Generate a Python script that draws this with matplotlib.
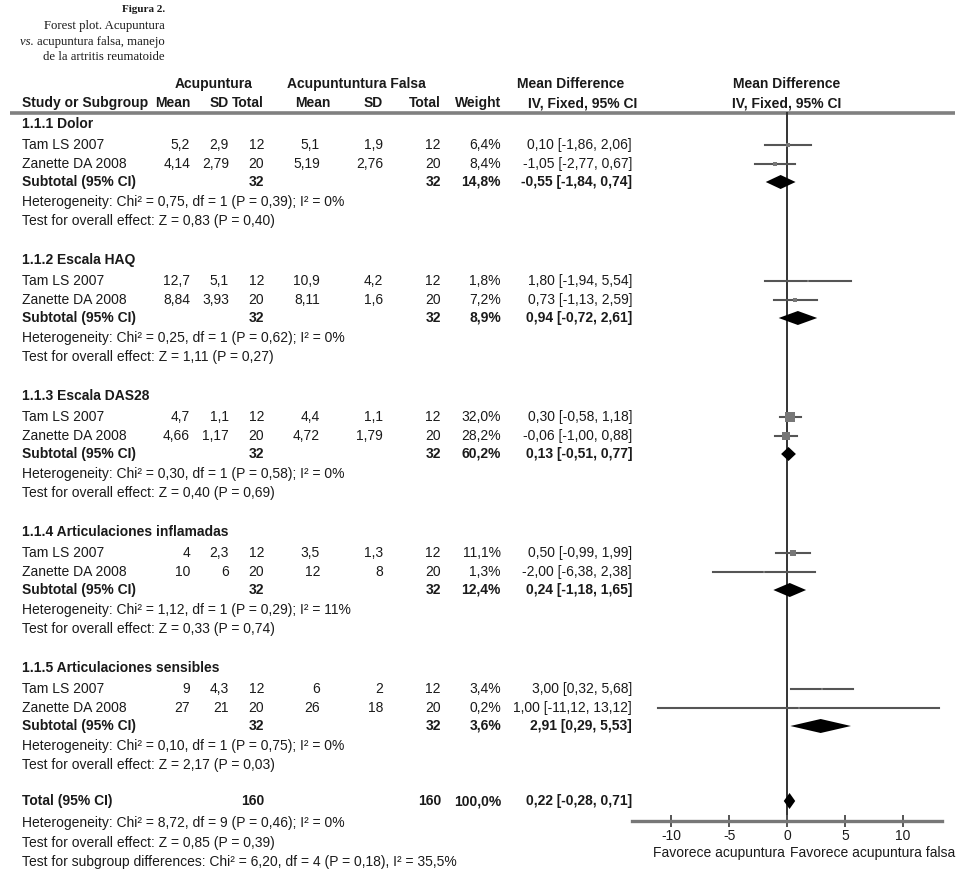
import numpy as np
import matplotlib
matplotlib.use("Agg")
import matplotlib.pyplot as plt

# datos
groups = ["1.1.1 Dolor", "1.1.2 Escala HAQ", "1.1.3 Escala DAS28",
          "1.1.4 Articulaciones inflamadas", "1.1.5 Articulaciones sensibles"]
studies = ["Tam LS 2007", "Zanette DA 2008"]
acu_mean = [[5.2, 4.14], [12.7, 8.84], [4.7, 4.66], [4, 10], [9, 27]]
acu_sd = [[2.9, 2.79], [5.1, 3.93], [1.1, 1.17], [2.3, 6], [4.3, 21]]
acu_n = [12, 20]
fal_mean = [[5.1, 5.19], [10.9, 8.11], [4.4, 4.72], [3.5, 12], [6, 26]]
fal_sd = [[1.9, 2.76], [4.2, 1.6], [1.1, 1.79], [1.3, 8], [2, 18]]
fal_n = [12, 20]
weight = [[6.4, 8.4], [1.8, 7.2], [32.0, 28.2], [11.1, 1.3], [3.4, 0.2]]
md = [[0.10, -1.05], [1.80, 0.73], [0.30, -0.06], [0.50, -2.00], [3.00, 1.00]]
md_lo = [[-1.86, -2.77], [-1.94, -1.13], [-0.58, -1.00], [-0.99, -6.38], [0.32, -11.12]]
md_hi = [[2.06, 0.67], [5.54, 2.59], [1.18, 0.88], [1.99, 2.38], [5.68, 13.12]]
sub_n = [32, 32]
sub_weight = [14.8, 8.9, 60.2, 12.4, 3.6]
sub_md = [-0.55, 0.94, 0.13, 0.24, 2.91]
sub_lo = [-1.84, -0.72, -0.51, -1.18, 0.29]
sub_hi = [0.74, 2.61, 0.77, 1.65, 5.53]
het = ["Heterogeneity: Chi² = 0,75, df = 1 (P = 0,39); I² = 0%",
       "Heterogeneity: Chi² = 0,25, df = 1 (P = 0,62); I² = 0%",
       "Heterogeneity: Chi² = 0,30, df = 1 (P = 0,58); I² = 0%",
       "Heterogeneity: Chi² = 1,12, df = 1 (P = 0,29); I² = 11%",
       "Heterogeneity: Chi² = 0,10, df = 1 (P = 0,75); I² = 0%"]
overall = ["Test for overall effect: Z = 0,83 (P = 0,40)",
           "Test for overall effect: Z = 1,11 (P = 0,27)",
           "Test for overall effect: Z = 0,40 (P = 0,69)",
           "Test for overall effect: Z = 0,33 (P = 0,74)",
           "Test for overall effect: Z = 2,17 (P = 0,03)"]
total_n = [160, 160]
total_weight = 100.0
total_md, total_lo, total_hi = 0.22, -0.28, 0.71
total_notes = ["Heterogeneity: Chi² = 8,72, df = 9 (P = 0,46); I² = 0%",
               "Test for overall effect: Z = 0,85 (P = 0,39)",
               "Test for subgroup differences: Chi² = 6,20, df = 4 (P = 0,18), I² = 35,5%"]
xticks = [-10, -5, 0, 5, 10]


def num(v):
    return f"{v:g}".replace(".", ",")


def pct(v):
    return f"{v:.1f}%".replace(".", ",")


def ci(m, lo, hi):
    return f"{m:.2f} [{lo:.2f}, {hi:.2f}]".replace(".", ",")


W, H = 976, 884
fig = plt.figure(figsize=(W / 100, H / 100), dpi=100)
tab = fig.add_axes([0, 0, 1, 1])
tab.set_xlim(0, W)
tab.set_ylim(H, 0)
tab.axis("off")

sans = ["Liberation Sans", "DejaVu Sans"]
fs = 10
tc = "#1a1a1a"


def t(x, y, s, ha="left", bold=False, size=fs):
    tab.text(x, y, s, ha=ha, va="center", fontsize=size, family=sans,
             fontweight="bold" if bold else "normal", color=tc)


# columnas (borde derecho)
cx = dict(name=22, am=190, asd=229, an=264, fm=320, fsd=383, fn=441, w=501, ci=632)

# pie de figura
serif = ["Liberation Serif", "DejaVu Serif"]
tab.text(165, 10, "Figura 2.", ha="right", va="center", fontsize=8, family=serif,
         fontweight="bold", color=tc)
tab.text(165, 26, "Forest plot. Acupuntura", ha="right", va="center", fontsize=9.2,
         family=serif, color=tc)
l3 = tab.text(165, 42, "acupuntura falsa, manejo", ha="right", va="center", fontsize=9.2,
              family=serif, color=tc)
tab.annotate("vs. ", xy=(0, 0), xycoords=l3, ha="right", va="bottom", fontsize=9.2,
             family=serif, style="italic", color=tc)
tab.text(165, 57, "de la artritis reumatoide", ha="right", va="center", fontsize=9.2,
         family=serif, color=tc)

# cabecera
t(214, 84, "Acupuntura", ha="center", bold=True)
t(356, 84, "Acupuntuntura Falsa", ha="center", bold=True)
t(571, 84, "Mean Difference", ha="center", bold=True)
t(787, 84, "Mean Difference", ha="center", bold=True)
t(cx["name"], 103, "Study or Subgroup", bold=True)
t(cx["am"], 103, "Mean", ha="right", bold=True)
t(cx["asd"], 103, "SD", ha="right", bold=True)
t(cx["an"], 103, "Total", ha="right", bold=True)
t(331, 103, "Mean", ha="right", bold=True)
t(cx["fsd"], 103, "SD", ha="right", bold=True)
t(cx["fn"], 103, "Total", ha="right", bold=True)
t(cx["w"], 103, "Weight", ha="right", bold=True)
t(583, 103, "IV, Fixed, 95% CI", ha="center", bold=True)
t(787, 103, "IV, Fixed, 95% CI", ha="center", bold=True)
tab.plot([10, 955], [112.5, 112.5], color="#808080", lw=2.6, solid_capstyle="butt")

# axes del forest plot (y en pixeles)
fx0, fx1, fy0, fy1 = 632, 942, 112, 821
fp = fig.add_axes([fx0 / W, (H - fy1) / H, (fx1 - fx0) / W, (fy1 - fy0) / H])
fp.set_xlim(-13.4, 13.4)
fp.set_ylim(fy1, fy0)
fp.patch.set_alpha(0)
for s in ["top", "left", "right"]:
    fp.spines[s].set_visible(False)
fp.spines["bottom"].set_color("#777777")
fp.spines["bottom"].set_linewidth(2.4)
fp.set_yticks([])
fp.set_xticks(xticks)
fp.set_xticklabels([str(v) for v in xticks], fontsize=10, family=sans, color=tc)
fp.tick_params(axis="x", direction="inout", length=9, width=1.4, color="#555555", pad=1)
fp.axvline(0, color="#333333", lw=1.4, zorder=1)


def diamond(y, m, lo, hi, h=7):
    fp.fill([lo, m, hi, m], [y, y - h, y, y + h], color="black", lw=0, zorder=3)


y0, step = 124, 136
offs = [0, 21, 40, 58, 78, 97]
for g, name in enumerate(groups):
    yb = y0 + step * g
    t(cx["name"], yb + offs[0], name, bold=True)
    for i, st in enumerate(studies):
        y = yb + offs[1 + i]
        t(cx["name"], y, st)
        t(cx["am"], y, num(acu_mean[g][i]), ha="right")
        t(cx["asd"], y, num(acu_sd[g][i]), ha="right")
        t(cx["an"], y, str(acu_n[i]), ha="right")
        t(cx["fm"], y, num(fal_mean[g][i]), ha="right")
        t(cx["fsd"], y, num(fal_sd[g][i]), ha="right")
        t(cx["fn"], y, str(fal_n[i]), ha="right")
        t(cx["w"], y, pct(weight[g][i]), ha="right")
        t(cx["ci"], y, ci(md[g][i], md_lo[g][i], md_hi[g][i]), ha="right")
        fp.plot([md_lo[g][i], md_hi[g][i]], [y, y], color="#555555", lw=1.5, zorder=2)
        side = max(2.5, 1.6 * np.sqrt(weight[g][i]))
        fp.plot(md[g][i], y, marker="s", ms=side * 0.72, color="#777777", mew=0, zorder=3)
    y = yb + offs[3]
    t(cx["name"], y, "Subtotal (95% CI)", bold=True)
    t(cx["an"], y, str(sub_n[0]), ha="right", bold=True)
    t(cx["fn"], y, str(sub_n[1]), ha="right", bold=True)
    t(cx["w"], y, pct(sub_weight[g]), ha="right", bold=True)
    t(cx["ci"], y, ci(sub_md[g], sub_lo[g], sub_hi[g]), ha="right", bold=True)
    diamond(y, sub_md[g], sub_lo[g], sub_hi[g])
    t(cx["name"], yb + offs[4], het[g])
    t(cx["name"], yb + offs[5], overall[g])

# total
yt = 801
t(cx["name"], yt, "Total (95% CI)", bold=True)
t(cx["an"], yt, str(total_n[0]), ha="right", bold=True)
t(cx["fn"], yt, str(total_n[1]), ha="right", bold=True)
t(cx["w"], yt, pct(total_weight), ha="right", bold=True)
t(cx["ci"], yt, ci(total_md, total_lo, total_hi), ha="right", bold=True)
diamond(yt, total_md, total_lo, total_hi, h=8)
for k, s in enumerate(total_notes):
    t(cx["name"], 823 + 19.5 * k, s)

t(719, 853, "Favorece acupuntura", ha="center")
t(873, 853, "Favorece acupuntura falsa", ha="center")

fig.savefig("out.png", dpi=100)
